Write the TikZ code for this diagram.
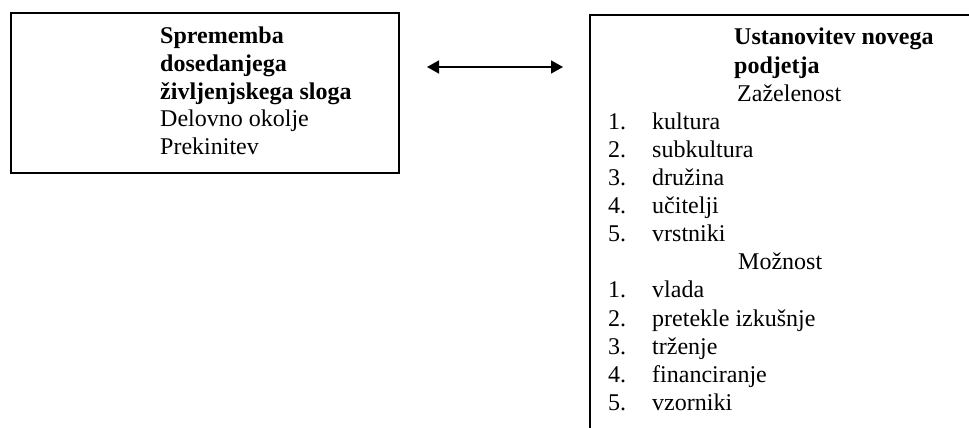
\documentclass[tikz,border=0pt]{standalone}
\usepackage{fontspec}
\setmainfont{Liberation Serif}
\usetikzlibrary{arrows.meta}
\begin{document}
\begin{tikzpicture}[x=1pt,y=-1pt,
  frame/.style={draw=black, line width=1.6pt, rectangle, inner sep=0pt, anchor=north west},
  txt/.style={anchor=base west, inner sep=0pt, font=\fontsize{24}{28}\selectfont},
  head/.style={txt, font=\fontsize{24}{28}\selectfont\bfseries},
  link/.style={line width=1.6pt, {Triangle[length=12pt,width=13pt]}-{Triangle[length=12pt,width=13pt]}}
]
\useasboundingbox (0,0) rectangle (969,428);
\clip (0,0) rectangle (969,428);

% left box: change of lifestyle
\node[frame, minimum width=388pt, minimum height=159.5pt] (lifestyle) at (10,12.5) {};
\node[head] (l1) at (160,44) {Sprememba};
\node[head] (l2) at (160,71.6) {dosedanjega};
\node[head] (l3) at (160,99.2) {življenjskega sloga};
\node[txt]  (l4) at (160,126.8) {Delovno okolje};
\node[txt]  (l5) at (160,154.4) {Prekinitev};

% right box: new company (runs past the page edge)
\node[frame, minimum width=420pt, minimum height=440pt] (company) at (589,14) {};
\node[head] (r1) at (734,45) {Ustanovitev novega};
\node[head] (r2) at (734,73.1) {podjetja};
\node[txt]  (r3) at (737,101.2) {Zaželenost};
\foreach \t [count=\k] in {kultura,subkultura,družina,učitelji,vrstniki}{
  \node[txt] (dn\k) at (608,{101.2+28.1*\k}) {\k.};
  \node[txt] (d\k)  at (652,{101.2+28.1*\k}) {\t};
}
\node[txt]  (r4) at (738,269.8) {Možnost};
\foreach \t [count=\k] in {vlada,pretekle izkušnje,trženje,financiranje,vzorniki}{
  \node[txt] (pn\k) at (608,{269.8+28.1*\k}) {\k.};
  \node[txt] (p\k)  at (652,{269.8+28.1*\k}) {\t};
}

% two-way link between the boxes
\coordinate (al) at (427,67);
\coordinate (ar) at (563,67);
\draw[link] (al) -- (ar);
\end{tikzpicture}
\end{document}
